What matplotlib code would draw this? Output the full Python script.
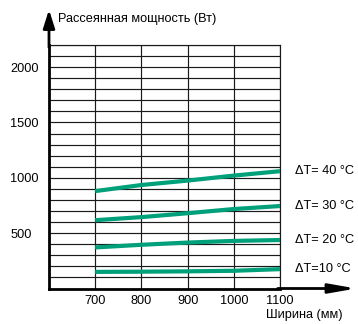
import matplotlib
matplotlib.use("Agg")
import matplotlib.pyplot as plt

# Dissipated power vs. cabinet width for several temperature differences
widths = [700, 800, 900, 1000, 1100]
power_dt40 = [880, 935, 975, 1020, 1060]
power_dt30 = [617, 645, 680, 718, 745]
power_dt20 = [371, 395, 415, 430, 438]
power_dt10 = [150, 152, 155, 160, 175]
series = [power_dt40, power_dt30, power_dt20, power_dt10]
series_labels = ["ΔT= 40 °C", "ΔT= 30 °C", "ΔT= 20 °C", "ΔT=10 °C"]

x_ticks = [700, 800, 900, 1000, 1100]
y_ticks = [500, 1000, 1500, 2000]
y_label = "Рассеянная мощность (Вт)"
x_label = "Ширина (мм)"

plt.rcParams["font.family"] = ["Liberation Sans", "DejaVu Sans"]
FS = 9.2
GREEN = "#00a07a"

fig = plt.figure(figsize=(3.58, 3.24), dpi=100)
ax = fig.add_axes([49 / 358, 1 - 288.5 / 324, 231 / 358, 243.5 / 324])

ax.set_xlim(600, 1100)
ax.set_ylim(0, 2200)

ax.set_xticks(x_ticks)
ax.set_xticklabels([str(v) for v in x_ticks], fontsize=FS)
ax.set_yticks(y_ticks)
ax.set_yticklabels([str(v) for v in y_ticks], fontsize=FS)
ax.set_yticks(range(100, 2201, 100), minor=True)
ax.tick_params(axis="both", which="both", length=0)
ax.tick_params(axis="x", pad=5)
ax.tick_params(axis="y", pad=28)
for lbl in ax.get_yticklabels():
    lbl.set_horizontalalignment("left")

ax.grid(True, which="both", axis="y", color="#1a1a1a", linewidth=0.85)
ax.grid(True, which="major", axis="x", color="#1a1a1a", linewidth=0.85)
ax.set_axisbelow(True)

for side in ("top", "right"):
    ax.spines[side].set_linewidth(0.85)
    ax.spines[side].set_color("#1a1a1a")
for side in ("left", "bottom"):
    ax.spines[side].set_linewidth(2.0)
    ax.spines[side].set_color("black")

for vals, lab in zip(series, series_labels):
    ax.plot(widths, vals, color=GREEN, linewidth=3.0, solid_capstyle="butt", zorder=3)
    ax.annotate(lab, xy=(widths[-1], vals[-1]), xytext=(11, 0),
                textcoords="offset points", ha="left", va="center",
                fontsize=FS, annotation_clip=False)

# Axis arrows
ax.annotate("", xy=(0, 1.145), xycoords="axes fraction", xytext=(0, 0.99),
            arrowprops=dict(arrowstyle="-|>,head_length=1.1,head_width=0.35",
                            lw=2.0, color="black", shrinkA=0, shrinkB=0,
                            mutation_scale=10),
            annotation_clip=False)
ax.annotate("", xy=(1.33, 0), xycoords="axes fraction", xytext=(0.99, 0),
            arrowprops=dict(arrowstyle="-|>,head_length=1.6,head_width=0.28",
                            lw=2.0, color="black", shrinkA=0, shrinkB=0,
                            mutation_scale=10),
            annotation_clip=False)

fig.text(58 / 358, 1 - 19 / 324, y_label, fontsize=FS, ha="left", va="center")
fig.text(266 / 358, 1 - 315 / 324, x_label, fontsize=FS, ha="left", va="center")

fig.savefig("out.png", dpi=100)
